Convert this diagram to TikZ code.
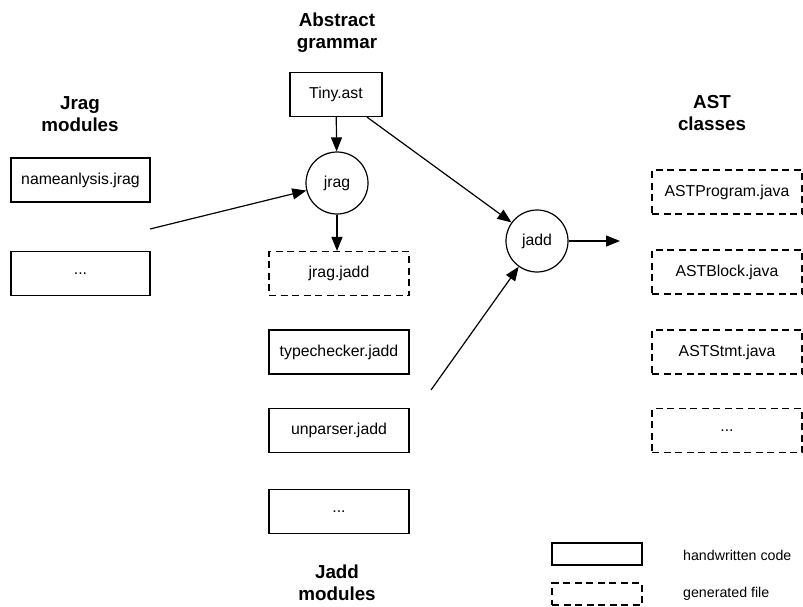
\documentclass[tikz,border=0pt]{standalone}
\usepackage{fontspec}
\setmainfont{Liberation Sans}
\usetikzlibrary{arrows.meta}
\begin{document}
\begin{tikzpicture}[x=1pt,y=-1pt,
  every node/.style={inner sep=0pt, font=\fontsize{15.8}{18}\selectfont},
  solidbox/.style={draw, line width=1.2pt, rectangle, minimum width=#1, minimum height=44pt},
  solidbox/.default=140pt,
  dashbox/.style={draw, line width=1.2pt, rectangle, dash pattern=on 7pt off 4.5pt, minimum width=#1, minimum height=44pt},
  dashbox/.default=140pt,
  proc/.style={draw, line width=1.2pt, circle, minimum size=62pt},
  heading/.style={align=center, font=\fontsize{18.8}{22}\selectfont\bfseries},
  legtext/.style={anchor=west, font=\fontsize{14.2}{16}\selectfont},
  conn/.style={line width=1.2pt, -{Triangle[length=14pt,width=11pt]}}
]
\useasboundingbox (0,0) rectangle (803,607);

% headings
\node[heading] (habs) at (337,33) {Abstract\\grammar};
\node[heading] (hjrag) at (80,114) {Jrag\\modules};
\node[heading] (hjadd) at (337,583) {Jadd\\modules};
\node[heading] (hast) at (712,113) {AST\\classes};

% abstract grammar
\node[solidbox=92pt] (tiny) at (336,94.5) {Tiny.ast};
\node[proc] (jrag) at (337,183) {jrag};
\node[dashbox] (jragjadd) at (339,273.5) {jrag.jadd};

% jrag modules
\node[solidbox=139pt] (name) at (80.5,180) {nameanlysis.jrag};
\node[solidbox=139pt] (jrdots) at (80.5,273.5) {...};

% jadd modules
\node[solidbox] (type) at (339,352) {typechecker.jadd};
\node[solidbox] (unp) at (339,430.5) {unparser.jadd};
\node[solidbox] (jadots) at (339,511.5) {...};

% jadd tool
\node[proc] (jadd) at (537,241) {jadd};

% AST classes
\node[dashbox=150pt] (prog) at (727,192) {ASTProgram.java};
\node[dashbox=150pt] (block) at (727,272) {ASTBlock.java};
\node[dashbox=150pt] (stmt) at (727,352) {ASTStmt.java};
\node[dashbox=150pt] (astdots) at (727,430.5) {...};

% legend
\node[solidbox=90pt, minimum height=22pt] (lsolid) at (597,554) {};
\node[dashbox=90pt, minimum height=22pt] (ldash) at (597,594) {};
\node[legtext] (lt1) at (683,555) {handwritten code};
\node[legtext] (lt2) at (683,594) {generated file};

% connectors
\coordinate (c1) at (150,229);
\coordinate (c2) at (431,390);
\coordinate (c3) at (620,241);
\draw[conn] (tiny) -- (jrag);
\draw[conn] (jrag.south) -- (jrag.south |- jragjadd.north);
\draw[conn] (c1) -- (jrag);
\draw[conn] (tiny) -- (jadd);
\draw[conn] (c2) -- (jadd);
\draw[conn] (jadd) -- (c3);
\end{tikzpicture}
\end{document}
